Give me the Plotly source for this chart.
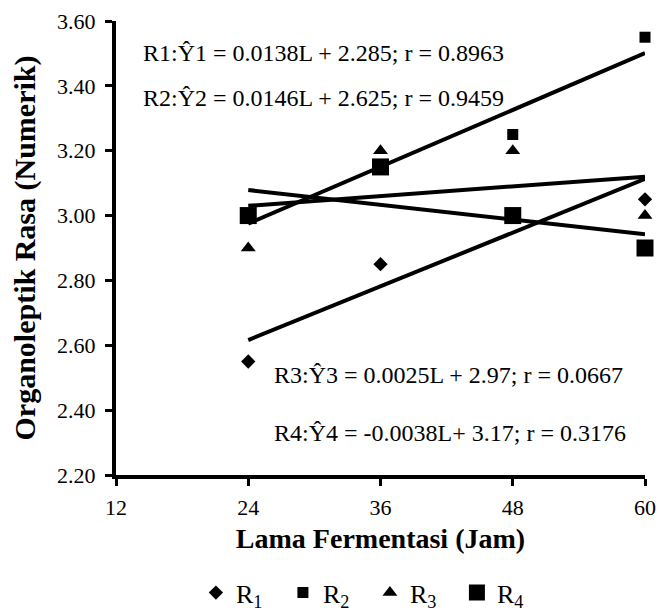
import plotly.graph_objects as go

# ---- data ----
hours = [24, 36, 48, 60]
r1 = [2.55, 2.85, 3.00, 3.05]
r2 = [3.00, 3.15, 3.25, 3.55]
r3 = [2.90, 3.20, 3.20, 3.00]
r4 = [3.00, 3.15, 3.00, 2.90]

series_names = ["R<sub>1</sub>", "R<sub>2</sub>", "R<sub>3</sub>", "R<sub>4</sub>"]
series_values = [r1, r2, r3, r4]

# regression coefficients (slope, intercept) as printed on the chart
slopes = [0.0138, 0.0146, 0.0025, -0.0038]
intercepts = [2.285, 2.625, 2.97, 3.17]
fit_x = [24, 60]

equations = [
    "R1:Ŷ1 = 0.0138L + 2.285; r = 0.8963",
    "R2:Ŷ2 = 0.0146L + 2.625; r = 0.9459",
    "R3:Ŷ3 = 0.0025L + 2.97; r = 0.0667",
    "R4:Ŷ4 = -0.0038L+ 3.17; r = 0.3176",
]

x_ticks = [12, 24, 36, 48, 60]
y_ticks = [2.20, 2.40, 2.60, 2.80, 3.00, 3.20, 3.40, 3.60]

# ---- styles ----
FONT = "Liberation Serif, Times New Roman, serif"
symbols = ["diamond", "square", "triangle-up", "square"]
sizes = [11, 11, 13, 17]

fig = go.Figure()

# trend lines
for m, b in zip(slopes, intercepts):
    fig.add_trace(go.Scatter(
        x=fit_x, y=[m * xv + b for xv in fit_x], mode="lines",
        line=dict(color="black", width=4), showlegend=False, hoverinfo="skip",
        cliponaxis=False))

# markers
for name, vals, sym, sz in zip(series_names, series_values, symbols, sizes):
    fig.add_trace(go.Scatter(
        x=hours, y=vals, mode="markers", name=name, cliponaxis=False,
        marker=dict(symbol=sym, size=sz, color="black", line=dict(width=0))))

# equation labels
eq_pos = [(14.3, 3.50), (14.3, 3.362), (26.15, 2.507), (26.15, 2.331)]
for txt, (ax, ay) in zip(equations, eq_pos):
    fig.add_annotation(x=ax, y=ay, xref="x", yref="y", text=txt, showarrow=False,
                       xanchor="left", yanchor="middle",
                       font=dict(family=FONT, size=24, color="black"))

fig.update_layout(
    width=659, height=611,
    margin=dict(l=116, r=14, t=21, b=136, autoexpand=False),
    paper_bgcolor="white", plot_bgcolor="white",
    font=dict(family=FONT, color="black"),
    showlegend=True,
    legend=dict(orientation="h", xanchor="center", x=0.48,
                yref="container", yanchor="middle", y=0.03,
                font=dict(family=FONT, size=26, color="black"),
                entrywidth=42, entrywidthmode="pixels",
                itemwidth=30, tracegroupgap=0, bgcolor="rgba(0,0,0,0)"),
)

fig.update_xaxes(
    range=[12, 60], tickmode="array", tickvals=x_ticks,
    ticktext=[str(v) for v in x_ticks], automargin=False,
    showline=True, linecolor="black", linewidth=4, mirror=False,
    ticks="outside", ticklen=7, tickwidth=3, tickcolor="black",
    ticklabelstandoff=3,
    showgrid=False, zeroline=False,
    tickfont=dict(family=FONT, size=22, color="black"),
    title=dict(text="<b>Lama Fermentasi (Jam)</b>", standoff=10,
               font=dict(family=FONT, size=28, color="black")),
)
fig.update_yaxes(
    range=[2.2, 3.6], tickmode="array", tickvals=y_ticks,
    ticktext=[f"{v:.2f}" for v in y_ticks], automargin=False,
    showline=True, linecolor="black", linewidth=4, mirror=False,
    ticks="outside", ticklen=7, tickwidth=3, tickcolor="black",
    ticklabelstandoff=5,
    showgrid=False, zeroline=False,
    tickfont=dict(family=FONT, size=22, color="black"),
    title=dict(text="<b>Organoleptik Rasa (Numerik)</b>", standoff=14,
               font=dict(family=FONT, size=30, color="black")),
)

fig.write_html("out.html")
